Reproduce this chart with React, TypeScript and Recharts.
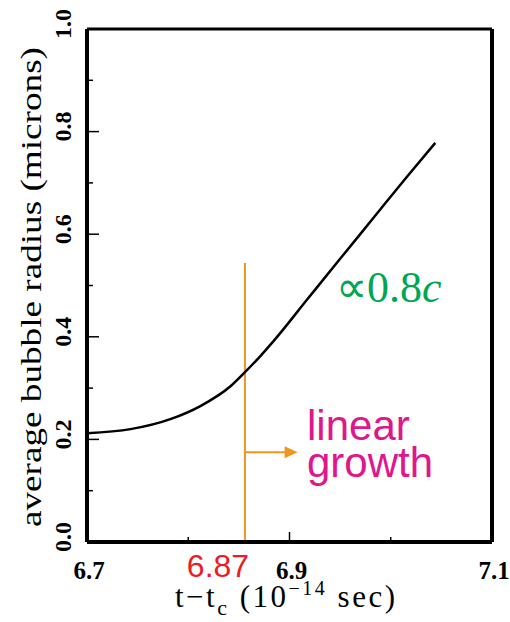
import React from 'react';
import { LineChart, Line, XAxis, YAxis, ReferenceLine } from 'recharts';

// t - t_c (10^-14 sec) and average bubble radius (microns)
const times = [6.7, 6.743, 6.783, 6.812, 6.842, 6.857, 6.871, 6.884, 6.918, 6.95, 6.983, 7.016, 7.044];
const radii = [0.212, 0.22, 0.24, 0.265, 0.304, 0.333, 0.362, 0.391, 0.474, 0.552, 0.632, 0.712, 0.778];

const xTicks = [6.7, 6.8, 6.9, 7.0, 7.1];
const xTickLabels = ['6.7', '', '6.9', '', '7.1'];
const yTicks = [0, 0.1, 0.2, 0.3, 0.4, 0.5, 0.6, 0.7, 0.8, 0.9, 1.0];
const yTickLabels = ['0.0', '', '0.2', '', '0.4', '', '0.6', '', '0.8', '', '1.0'];

// onset of linear growth and the marker line
const onsetTime = 6.856;
const onsetLabel = '6.87';
const markerTop = 0.544;
const arrowLevel = 0.175;
const arrowEnd = 6.908;

const data = times.map((t, i) => ({ t, r: radii[i] }));

const serif = 'Liberation Serif, Times New Roman, serif';
const sans = 'Liberation Sans, Arial, sans-serif';

function YTick(props: any) {
  const { x, y, payload } = props;
  const idx = yTicks.indexOf(payload.value);
  const label = yTickLabels[idx];
  const major = label !== '';
  return (
    <g>
      <line x1={x} y1={y} x2={x + (major ? 12 : 6)} y2={y} stroke="#000" strokeWidth={1.5} />
      {major && (
        <text
          x={63}
          y={y - 5}
          transform={`rotate(-90, 63, ${y - 5})`}
          textAnchor="middle"
          dominantBaseline="central"
          style={{ fontFamily: serif, fontWeight: 'bold', fontSize: 24 }}
          fill="#000"
        >
          {label}
        </text>
      )}
    </g>
  );
}

function XTick(props: any) {
  const { x, y, payload } = props;
  const idx = xTicks.indexOf(payload.value);
  const label = xTickLabels[idx];
  const major = label !== '';
  return (
    <g>
      <line x1={x} y1={y} x2={x} y2={y - (major ? 10 : 5)} stroke="#000" strokeWidth={1.5} />
      {major && (
        <text
          x={x + 2}
          y={570}
          textAnchor="middle"
          dominantBaseline="central"
          style={{ fontFamily: serif, fontWeight: 'bold', fontSize: 25 }}
          fill="#000"
        >
          {label}
        </text>
      )}
    </g>
  );
}

function Arrow(props: any) {
  const { x1, y1, x2, y2 } = props;
  return (
    <g>
      <line x1={x1} y1={y1} x2={x2 - 10} y2={y2} stroke="#f0961e" strokeWidth={2} />
      <polygon points={`${x2},${y2} ${x2 - 13},${y2 - 6} ${x2 - 13},${y2 + 6}`} fill="#f0961e" />
    </g>
  );
}

export default function App() {
  return (
    <div style={{ position: 'absolute', left: 0, top: 0, width: 510, height: 622, background: '#fff' }}>
      <LineChart
        width={510}
        height={622}
        data={data}
        margin={{ top: 29, right: 18, left: 27, bottom: 40 }}
      >
        <XAxis
          dataKey="t"
          type="number"
          domain={[6.7, 7.1]}
          ticks={xTicks}
          tick={<XTick />}
          tickSize={0}
          tickMargin={0}
          height={40}
          axisLine={{ stroke: '#000', strokeWidth: 4 }}
          tickLine={false}
        />
        <YAxis
          type="number"
          domain={[0, 1]}
          ticks={yTicks}
          tick={<YTick />}
          tickSize={0}
          tickMargin={0}
          width={60}
          axisLine={{ stroke: '#000', strokeWidth: 4 }}
          tickLine={false}
        />
        <ReferenceLine y={1} stroke="#000" strokeWidth={3} />
        <ReferenceLine x={7.1} stroke="#000" strokeWidth={4} />
        <ReferenceLine
          segment={[{ x: onsetTime, y: 0 }, { x: onsetTime, y: markerTop }]}
          stroke="#f0961e"
          strokeWidth={2}
        />
        <ReferenceLine
          segment={[{ x: onsetTime, y: arrowLevel }, { x: arrowEnd, y: arrowLevel }]}
          shape={<Arrow />}
        />
        <Line
          type="monotone"
          dataKey="r"
          stroke="#000"
          strokeWidth={2.5}
          dot={false}
          isAnimationActive={false}
        />
      </LineChart>
      <svg
        width={510}
        height={622}
        style={{ position: 'absolute', left: 0, top: 0, pointerEvents: 'none' }}
      >
        <text
          x={30}
          y={287}
          transform="rotate(-90, 30, 287)"
          textAnchor="middle"
          dominantBaseline="central"
          textLength={480}
          lengthAdjust="spacingAndGlyphs"
          style={{ fontFamily: serif, fontSize: 30 }}
          fill="#000"
        >
          average bubble radius (microns)
        </text>
        <text x={175} y={607} style={{ fontFamily: serif, fontSize: 31, letterSpacing: 2.5 }} fill="#000">
          t−t
          <tspan style={{ fontSize: 22 }} dy={8}>c</tspan>
          <tspan dy={-8}> (10</tspan>
          <tspan style={{ fontSize: 20 }} dy={-12}>−14</tspan>
          <tspan dy={12}> sec)</tspan>
        </text>
        <text x={218} y={577} textAnchor="middle" style={{ fontFamily: sans, fontSize: 32 }} fill="#ec1c24">
          {onsetLabel}
        </text>
        <text x={336} y={302} style={{ fontFamily: serif, fontSize: 44 }} fill="#00a651">
          ∝0.8<tspan style={{ fontStyle: 'italic' }}>c</tspan>
        </text>
        <text x={307} y={440} style={{ fontFamily: sans, fontSize: 42 }} fill="#e0168c">
          linear
        </text>
        <text x={307} y={477} style={{ fontFamily: sans, fontSize: 42 }} fill="#e0168c">
          growth
        </text>
      </svg>
    </div>
  );
}
